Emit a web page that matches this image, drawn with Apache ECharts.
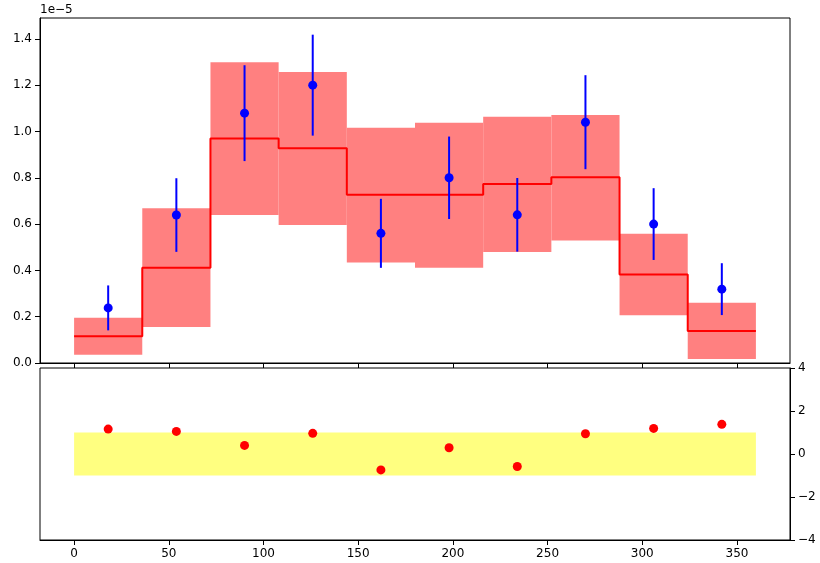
<!DOCTYPE html>
<html>
<head>
<meta charset="utf-8">
<script src="https://cdn.jsdelivr.net/npm/echarts@6/dist/echarts.min.js"></script>
<style>html,body{margin:0;padding:0;background:#fff;}#c{width:820px;height:563px;}</style>
</head>
<body>
<div id="c"></div>
<script>
// values of the upper panel are in units of 1e-5
var binEdges = [0, 36, 72, 108, 144, 180, 216, 252, 288, 324, 360];
var binCenters = [18, 54, 90, 126, 162, 198, 234, 270, 306, 342];
var model = [0.115, 0.411, 0.970, 0.927, 0.727, 0.727, 0.773, 0.802, 0.382, 0.138];
var bandLow = [0.036, 0.156, 0.639, 0.596, 0.434, 0.411, 0.479, 0.529, 0.206, 0.017];
var bandHigh = [0.195, 0.668, 1.299, 1.257, 1.016, 1.038, 1.063, 1.071, 0.558, 0.260];
var dataVals = [0.238, 0.639, 1.079, 1.200, 0.560, 0.800, 0.640, 1.040, 0.600, 0.319];
var dataErr = [0.097, 0.159, 0.207, 0.218, 0.149, 0.178, 0.159, 0.203, 0.155, 0.112];
var pulls = [1.16, 1.05, 0.40, 0.96, -0.74, 0.29, -0.58, 0.94, 1.19, 1.38];
var pullBand = [-1, 1];
var xTicks = [0, 50, 100, 150, 200, 250, 300, 350];
var yTopTicks = [0, 0.2, 0.4, 0.6, 0.8, 1.0, 1.2, 1.4];
var yBotTicks = [-4, -2, 0, 2, 4];

var FONT = 'DejaVu Sans';
var bandData = binCenters.map(function (c, i) { return [binEdges[i], binEdges[i + 1], bandLow[i], bandHigh[i]]; });
var stepData = binEdges.map(function (e, i) { return [e, model[Math.min(i, model.length - 1)]]; });
var errData = binCenters.map(function (c, i) { return [c, dataVals[i] - dataErr[i], dataVals[i] + dataErr[i]]; });
var ptData = binCenters.map(function (c, i) { return [c, dataVals[i]]; });
var pullData = binCenters.map(function (c, i) { return [c, pulls[i]]; });
var pullBandData = [[binEdges[0], binEdges[binEdges.length - 1], pullBand[0], pullBand[1]]];

function rectRender(color) {
  return function (params, api) {
    var p0 = api.coord([api.value(0), api.value(3)]);
    var p1 = api.coord([api.value(1), api.value(2)]);
    return { type: 'rect', shape: { x: p0[0], y: p0[1], width: p1[0] - p0[0], height: p1[1] - p0[1] },
      style: { fill: color } };
  };
}

var chart = echarts.init(document.getElementById('c'), null, { renderer: 'canvas' });
var axisCommon = {
  axisLine: { show: true, onZero: false, lineStyle: { color: '#000', width: 1 } },
  axisTick: { show: true, length: 5, lineStyle: { color: '#000', width: 1 } },
  splitLine: { show: false },
  axisLabel: { color: '#000', fontFamily: FONT, fontSize: 12, margin: 8 }
};
function ax(extra) { return echarts.util.merge(echarts.util.clone(axisCommon), extra, true); }

chart.setOption({
  animation: false,
  backgroundColor: '#fff',
  graphic: [{ type: 'text', left: 40, top: 4, style: { text: '1e\u22125', fill: '#000', font: '12px "DejaVu Sans"' } }],
  grid: [
    { left: 40, top: 18, width: 750, height: 345, show: true, borderColor: '#000', borderWidth: 1, backgroundColor: 'transparent' },
    { left: 40, top: 368, width: 750, height: 172, show: true, borderColor: '#000', borderWidth: 1, backgroundColor: 'transparent' }
  ],
  xAxis: [
    ax({ type: 'value', gridIndex: 0, position: 'bottom', min: -18, max: 378,
      axisTick: { customValues: xTicks }, axisLabel: { show: false, customValues: xTicks } }),
    ax({ type: 'value', gridIndex: 1, position: 'bottom', min: -18, max: 378,
      axisTick: { customValues: xTicks }, axisLabel: { customValues: xTicks } })
  ],
  yAxis: [
    ax({ type: 'value', gridIndex: 0, position: 'left', min: 0, max: 1.49,
      axisTick: { customValues: yTopTicks },
      axisLabel: { customValues: yTopTicks, formatter: function (v) { return v.toFixed(1); } } }),
    ax({ type: 'value', gridIndex: 1, position: 'right', min: -4, max: 4, interval: 2,
      axisTick: { customValues: yBotTicks },
      axisLabel: { customValues: yBotTicks, formatter: function (v) { return String(v).replace('-', '\u2212'); } } })
  ],
  series: [
    { type: 'custom', xAxisIndex: 0, yAxisIndex: 0, renderItem: rectRender('#ff8080'),
      encode: { x: [0, 1], y: [2, 3] }, data: bandData, z: 1 },
    { type: 'line', xAxisIndex: 0, yAxisIndex: 0, step: 'end', data: stepData, symbol: 'none',
      lineStyle: { color: '#ff0000', width: 2 }, z: 2 },
    { type: 'custom', xAxisIndex: 0, yAxisIndex: 0, z: 3,
      encode: { x: 0, y: [1, 2] }, data: errData,
      renderItem: function (params, api) {
        var a = api.coord([api.value(0), api.value(1)]);
        var b = api.coord([api.value(0), api.value(2)]);
        return { type: 'line', shape: { x1: a[0], y1: a[1], x2: b[0], y2: b[1] },
          style: { stroke: '#0000ff', lineWidth: 2 } };
      } },
    { type: 'scatter', xAxisIndex: 0, yAxisIndex: 0, data: ptData, symbol: 'circle', symbolSize: 9,
      itemStyle: { color: '#0000ff', opacity: 1 }, z: 4 },
    { type: 'custom', xAxisIndex: 1, yAxisIndex: 1, renderItem: rectRender('#ffff80'),
      encode: { x: [0, 1], y: [2, 3] }, data: pullBandData, z: 1 },
    { type: 'scatter', xAxisIndex: 1, yAxisIndex: 1, data: pullData, symbol: 'circle', symbolSize: 9,
      itemStyle: { color: '#ff0000', opacity: 1 }, z: 4 }
  ]
});
</script>
</body>
</html>
